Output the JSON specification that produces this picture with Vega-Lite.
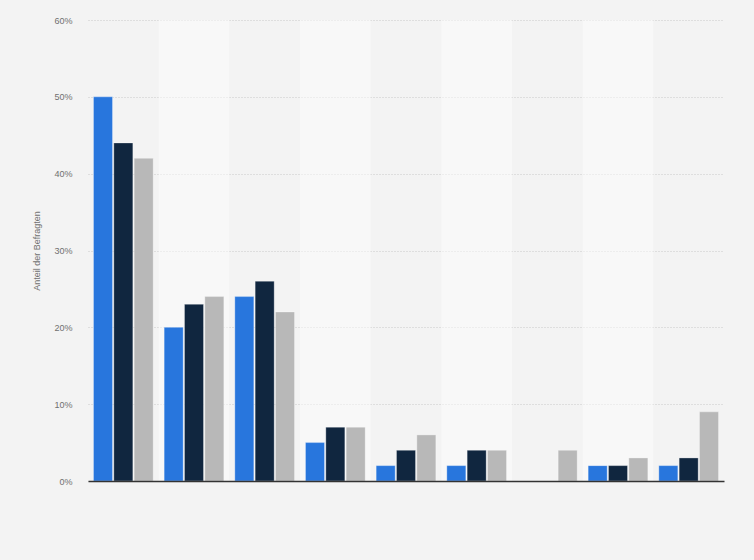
{
  "$schema": "https://vega.github.io/schema/vega-lite/v6.json",
  "autosize": {"type": "none"},
  "width": 636,
  "height": 461,
  "padding": {"left": 88, "top": 20, "right": 30, "bottom": 79},
  "background": "#f3f3f3",
  "datasets": {
    "antworten": [
      {"kategorie": "1", "gruppe": "a", "anteil": 50},
      {"kategorie": "1", "gruppe": "b", "anteil": 44},
      {"kategorie": "1", "gruppe": "c", "anteil": 42},
      {"kategorie": "2", "gruppe": "a", "anteil": 20},
      {"kategorie": "2", "gruppe": "b", "anteil": 23},
      {"kategorie": "2", "gruppe": "c", "anteil": 24},
      {"kategorie": "3", "gruppe": "a", "anteil": 24},
      {"kategorie": "3", "gruppe": "b", "anteil": 26},
      {"kategorie": "3", "gruppe": "c", "anteil": 22},
      {"kategorie": "4", "gruppe": "a", "anteil": 5},
      {"kategorie": "4", "gruppe": "b", "anteil": 7},
      {"kategorie": "4", "gruppe": "c", "anteil": 7},
      {"kategorie": "5", "gruppe": "a", "anteil": 2},
      {"kategorie": "5", "gruppe": "b", "anteil": 4},
      {"kategorie": "5", "gruppe": "c", "anteil": 6},
      {"kategorie": "6", "gruppe": "a", "anteil": 2},
      {"kategorie": "6", "gruppe": "b", "anteil": 4},
      {"kategorie": "6", "gruppe": "c", "anteil": 4},
      {"kategorie": "7", "gruppe": "a", "anteil": 0},
      {"kategorie": "7", "gruppe": "b", "anteil": 0},
      {"kategorie": "7", "gruppe": "c", "anteil": 4},
      {"kategorie": "8", "gruppe": "a", "anteil": 2},
      {"kategorie": "8", "gruppe": "b", "anteil": 2},
      {"kategorie": "8", "gruppe": "c", "anteil": 3},
      {"kategorie": "9", "gruppe": "a", "anteil": 2},
      {"kategorie": "9", "gruppe": "b", "anteil": 3},
      {"kategorie": "9", "gruppe": "c", "anteil": 9}
    ],
    "kategorien": [
      {"kategorie": "1"}, {"kategorie": "2"}, {"kategorie": "3"},
      {"kategorie": "4"}, {"kategorie": "5"}, {"kategorie": "6"},
      {"kategorie": "7"}, {"kategorie": "8"}, {"kategorie": "9"}
    ]
  },
  "layer": [
    {
      "data": {"name": "kategorien"},
      "mark": {"type": "rect"},
      "encoding": {
        "x": {"field": "kategorie", "type": "nominal"},
        "y": {"datum": 0, "type": "quantitative"},
        "y2": {"datum": 60},
        "fill": {
          "field": "kategorie",
          "type": "nominal",
          "legend": null,
          "scale": {"range": ["rgba(255,255,255,0)", "rgba(255,255,255,0.45)"]}
        }
      }
    },
    {
      "data": {"name": "antworten"},
      "mark": {"type": "bar", "stroke": "#ffffff", "strokeOpacity": 0.5, "strokeWidth": 0.6},
      "encoding": {
        "x": {
          "field": "kategorie",
          "type": "nominal",
          "scale": {"paddingInner": 0, "paddingOuter": 0},
          "axis": {
            "title": null,
            "labels": false,
            "ticks": false,
            "domain": true,
            "domainColor": "#333333",
            "domainWidth": 1.5,
            "grid": false
          }
        },
        "xOffset": {
          "field": "gruppe",
          "type": "nominal",
          "scale": {"paddingInner": 0.065, "paddingOuter": 0.27}
        },
        "y": {
          "field": "anteil",
          "type": "quantitative",
          "scale": {"domain": [0, 60]},
          "axis": {
            "title": "Anteil der Befragten",
            "values": [0, 10, 20, 30, 40, 50, 60],
            "labelExpr": "datum.value + '%'",
            "domain": false,
            "ticks": false,
            "grid": true,
            "gridColor": "#c8c8c8",
            "gridDash": [1, 2],
            "gridWidth": 1,
            "labelPadding": 16,
            "labelFont": "Liberation Sans",
            "labelFontSize": 9,
            "labelColor": "#707070",
            "titleFont": "Liberation Sans",
            "titleFontSize": 9,
            "titleFontWeight": "normal",
            "titleColor": "#707070",
            "titlePadding": 12
          }
        },
        "color": {
          "field": "gruppe",
          "type": "nominal",
          "legend": null,
          "scale": {"domain": ["a", "b", "c"], "range": ["#2876dd", "#10263f", "#b8b8b8"]}
        }
      }
    }
  ],
  "config": {"view": {"stroke": null}}
}
